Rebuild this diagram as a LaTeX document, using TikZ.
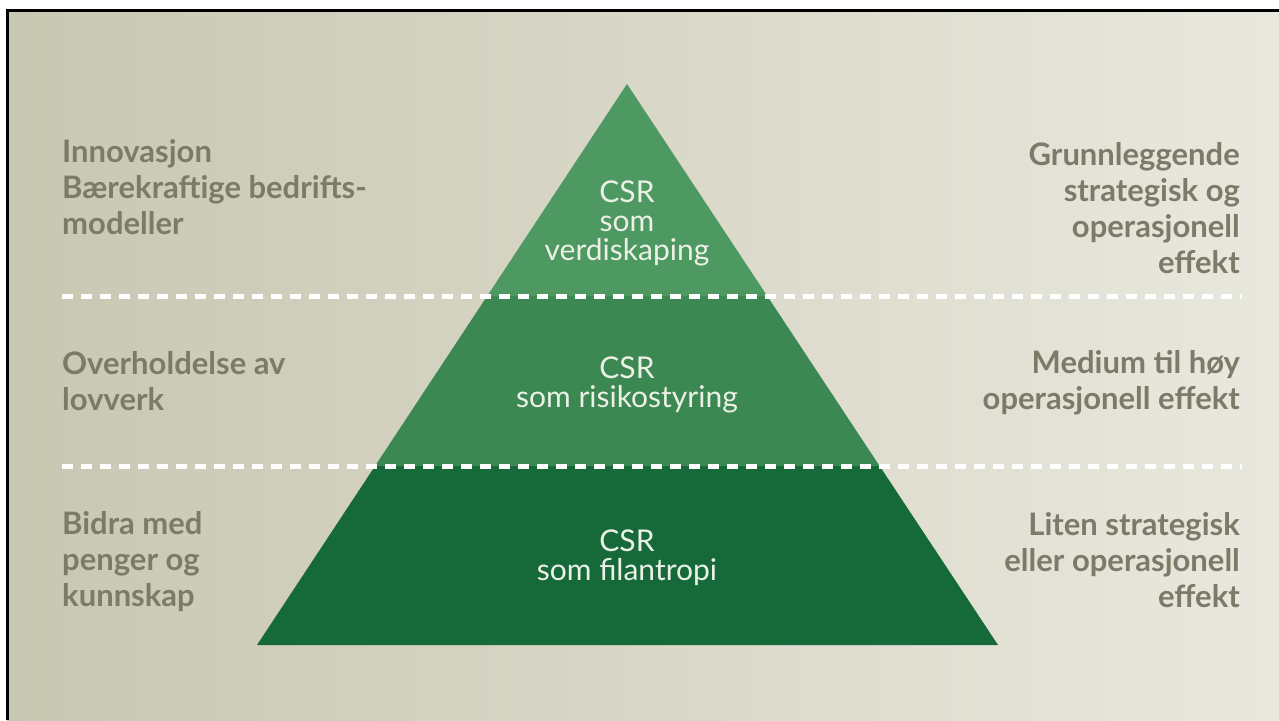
\documentclass[tikz,border=0pt]{standalone}
\usepackage{fontspec}
\setmainfont{Lato}
\usetikzlibrary{calc}

\definecolor{bgleft}{RGB}{200,199,178}
\definecolor{bgmid}{RGB}{216,215,200}
\definecolor{bgright}{RGB}{233,232,222}
\definecolor{tiertop}{RGB}{78,152,98}
\definecolor{tiermid}{RGB}{60,136,82}
\definecolor{tierlow}{RGB}{22,106,58}
\definecolor{labelgray}{RGB}{124,123,106}
\definecolor{csrwhite}{RGB}{236,240,230}

\tikzset{
  sidelabel/.style={text=labelgray, font=\fontsize{31}{36}\selectfont\bfseries, inner sep=0pt},
  leftlabel/.style={sidelabel, align=left, anchor=base west},
  rightlabel/.style={sidelabel, align=right, anchor=base east},
  tierlabel/.style={text=csrwhite, font=\fontsize{30}{29}\selectfont, align=center, anchor=base, inner sep=0pt},
  divider/.style={white, line width=5pt, dash pattern=on 11pt off 8pt}
}

\begin{document}
\begin{tikzpicture}[x=1pt,y=-1pt]
  \useasboundingbox (0,0) rectangle (1279,720);
  \fill[white] (0,0) rectangle (1279,720);
  \shade[left color=bgleft, middle color=bgmid, right color=bgright] (7,10) rectangle (1279,720);
  \draw[line width=3pt] (7,720) -- (7,10) -- (1279,10);

  % pyramid corners and tier edges
  \coordinate (apex) at (627,84);
  \coordinate (bl) at (257,645);
  \coordinate (br) at (998,645);
  \coordinate (l1) at ($(apex)!0.378!(bl)$);
  \coordinate (r1) at ($(apex)!0.378!(br)$);
  \coordinate (l2) at ($(apex)!0.681!(bl)$);
  \coordinate (r2) at ($(apex)!0.681!(br)$);

  \fill[tierlow] (l2) -- (r2) -- (br) -- (bl) -- cycle;
  \fill[tiermid] (l1) -- (r1) -- (r2) -- (l2) -- cycle;
  \fill[tiertop] (apex) -- (r1) -- (l1) -- cycle;

  % dashed dividers
  \coordinate (d1w) at (62,296);
  \coordinate (d1e) at (1242,296);
  \coordinate (d2w) at (62,466);
  \coordinate (d2e) at (1242,466);
  \draw[divider] (d1w) -- (d1e);
  \draw[divider] (d2w) -- (d2e);

  % tier texts (anchored at last baseline)
  \node[tierlabel] (toptext) at (627,260) {CSR\\som\\verdiskaping};
  \node[tierlabel] (midtext) at (627,407) {CSR\\som risikostyring};
  \node[tierlabel] (lowtext) at (627,580) {CSR\\som filantropi};

  % side texts
  \node[leftlabel] (innov) at (62,234) {Innovasjon\\Bærekraftige bedrifts-\\modeller};
  \node[leftlabel] (lov) at (62,410) {Overholdelse av\\lovverk};
  \node[leftlabel] (bidra) at (62,606) {Bidra med\\penger og\\kunnskap};
  \node[rightlabel] (grunn) at (1240,273) {Grunnleggende\\strategisk og\\operasjonell\\effekt};
  \node[rightlabel] (medium) at (1240,409) {Medium til høy\\operasjonell effekt};
  \node[rightlabel] (liten) at (1240,607) {Liten strategisk\\eller operasjonell\\effekt};
\end{tikzpicture}
\end{document}
